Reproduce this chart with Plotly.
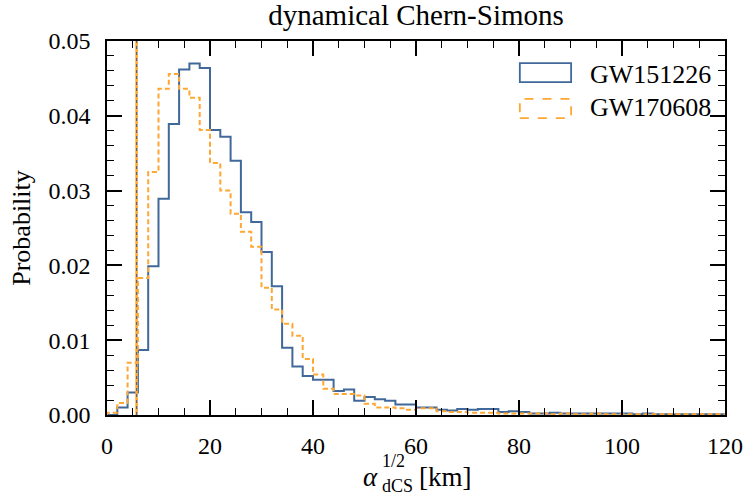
import numpy as np
import plotly.graph_objects as go

# ---- data ----
bin_edges = list(range(0, 122, 2))  # 0..120 km, 2 km bins

gw151226 = [0.0000, 0.0010, 0.0030, 0.0087, 0.0199, 0.0289, 0.0389, 0.0462, 0.0470, 0.0464,
            0.0381, 0.0372, 0.0340, 0.0271, 0.0258, 0.0218, 0.0172, 0.0090, 0.0065, 0.0052,
            0.0047, 0.0047, 0.0032, 0.0034, 0.0019, 0.0024, 0.0021, 0.0019, 0.0014, 0.0014,
            0.0010, 0.0010, 0.0007, 0.0006, 0.0008, 0.0007, 0.0008, 0.0008, 0.0004, 0.0005,
            0.0004, 0.0002, 0.0002, 0.0003, 0.0002, 0.0002, 0.0002, 0.0002, 0.0002, 0.0002,
            0.0002, 0.0001, 0.0002, 0.0001, 0.0001, 0.0001, 0.0001, 0.0001, 0.0001, 0.0001]

gw170608 = [0.0003, 0.0016, 0.0070, 0.0183, 0.0325, 0.0436, 0.0456, 0.0436, 0.0424, 0.0381,
            0.0337, 0.0300, 0.0269, 0.0245, 0.0225, 0.0170, 0.0141, 0.0122, 0.0106, 0.0075,
            0.0054, 0.0035, 0.0028, 0.0028, 0.0026, 0.0015, 0.0010, 0.0010, 0.0009, 0.0007,
            0.0009, 0.0009, 0.0005, 0.0004, 0.0004, 0.0003, 0.0003, 0.0003, 0.0002, 0.0002,
            0.0002, 0.0002, 0.0002, 0.0001, 0.0002, 0.0001, 0.0001, 0.0002, 0.0001, 0.0001,
            0.0001, 0.0001, 0.0001, 0.0001, 0.0001, 0.0001, 0.0001, 0.0001, 0.0001, 0.0001]

series_names = ["GW151226", "GW170608"]
lower_bound = 5.75  # km, vertical line

x_ticks = [0, 20, 40, 60, 80, 100, 120]
y_ticks = [0.00, 0.01, 0.02, 0.03, 0.04, 0.05]
y_tick_labels = ["0.00", "0.01", "0.02", "0.03", "0.04", "0.05"]

BLUE = "#41689a"
ORANGE = "#ffa733"
FONT = "Liberation Serif, Times New Roman, serif"


def step_xy(edges, vals):
    x = [edges[0]] + list(edges) + [edges[-1]]
    y = [0.0] + list(vals) + [vals[-1], 0.0]
    return x, y


fig = go.Figure()

bx, by = step_xy(bin_edges, gw151226)
ox, oy = step_xy(bin_edges, gw170608)

fig.add_trace(go.Scatter(x=bx, y=by, mode="lines", line=dict(color=BLUE, width=2, shape="hv"),
                         name=series_names[0], showlegend=False))
fig.add_trace(go.Scatter(x=ox, y=oy, mode="lines",
                         line=dict(color=ORANGE, width=2, shape="hv", dash="5px,3px"),
                         name=series_names[1], showlegend=False))

# vertical lower-bound lines
fig.add_vline(x=lower_bound, line=dict(color=ORANGE, width=2.6))
fig.add_vline(x=lower_bound, line=dict(color=BLUE, width=1.1, dash="3px,3px"))

axis_common = dict(showline=True, linecolor="black", linewidth=1.5, mirror="allticks",
                   ticks="inside", ticklen=15, tickwidth=1.5, tickcolor="black",
                   showgrid=False, zeroline=False,
                   tickfont=dict(family=FONT, size=24, color="black"))

fig.update_xaxes(range=[0, 120], tickvals=x_ticks, ticktext=[str(v) for v in x_ticks],
                 minor=dict(ticks="inside", dtick=5, ticklen=7.5, tickwidth=1.2, tickcolor="black"),
                 ticklabelstandoff=8, **axis_common)
fig.update_yaxes(range=[0, 0.05], tickvals=y_ticks, ticktext=y_tick_labels,
                 minor=dict(ticks="inside", dtick=0.002, ticklen=7.5, tickwidth=1.2, tickcolor="black"),
                 ticklabelstandoff=10,
                 title=dict(text="Probability", font=dict(family=FONT, size=26, color="black"), standoff=10),
                 **axis_common)

# legend (manual, rectangle patches)
legend_items = [(series_names[0], BLUE, "solid", 0.941, 0.890, 0.910),
                (series_names[1], ORANGE, "dash", 0.845, 0.794, 0.821)]
for name, col, dash, y1, y0, yt in legend_items:
    fig.add_shape(type="rect", xref="paper", yref="paper", x0=0.668, x1=0.751, y0=y0, y1=y1,
                  line=dict(color=col, width=1.8, dash=dash), fillcolor="rgba(0,0,0,0)")
    fig.add_annotation(text=name, xref="paper", yref="paper", x=0.779, y=yt,
                       xanchor="left", yanchor="middle", showarrow=False,
                       font=dict(family=FONT, size=26, color="black"))

# x-axis label with stacked super/subscripts
lab_font = dict(family=FONT, size=27, color="black")
small_font = dict(family=FONT, size=18, color="black")
fig.add_annotation(text="<i>α</i>", xref="paper", yref="paper", x=0.4425, y=-0.1668,
                   xanchor="right", yanchor="middle", showarrow=False, font=lab_font)
fig.add_annotation(text="1/2", xref="paper", yref="paper", x=0.4425, y=-0.123,
                   xanchor="left", yanchor="middle", showarrow=False, font=small_font)
fig.add_annotation(text="dCS", xref="paper", yref="paper", x=0.4425, y=-0.190,
                   xanchor="left", yanchor="middle", showarrow=False, font=small_font)
fig.add_annotation(text="[km]", xref="paper", yref="paper", x=0.5015, y=-0.1668,
                   xanchor="left", yanchor="middle", showarrow=False, font=lab_font)

fig.update_layout(
    width=755, height=499,
    margin=dict(l=107, r=22, t=41, b=84),
    paper_bgcolor="white", plot_bgcolor="white",
    title=dict(text="dynamical Chern-Simons", x=0.5, xref="paper", y=1 - 15 / 499,
               yanchor="middle", font=dict(family=FONT, size=29, color="black")),
    showlegend=False,
)

fig.write_html("out.html")
